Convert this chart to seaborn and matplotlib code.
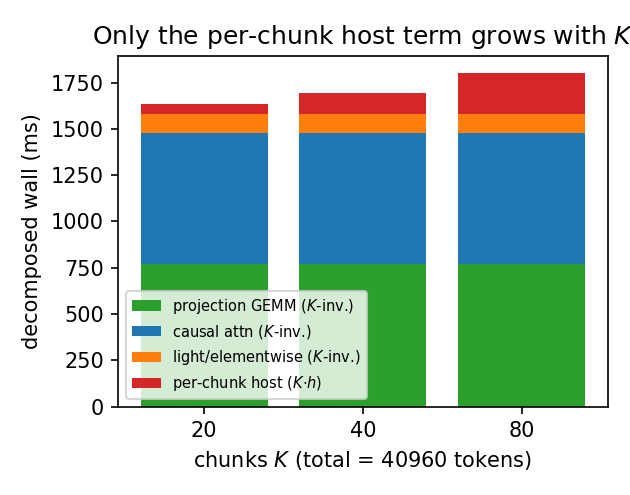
import matplotlib
matplotlib.use("Agg")
import matplotlib.pyplot as plt
import seaborn as sns
import numpy as np
import pandas as pd
from matplotlib.patches import Patch

chunks = ["20", "40", "80"]
proj_gemm = [768, 768, 768]
causal_attn = [712, 712, 712]
light_elem = [99, 99, 99]
chunk_host = [56, 112, 224]

series_names = ["projection GEMM ($K$-inv.)", "causal attn ($K$-inv.)",
                "light/elementwise ($K$-inv.)", "per-chunk host ($K{\\cdot}h$)"]
colors = ["#2ca02c", "#1f77b4", "#ff7f0e", "#d62728"]

layers = [proj_gemm, causal_attn, light_elem, chunk_host]
cum = np.cumsum(np.array(layers, dtype=float), axis=0)

fig, ax = plt.subplots(figsize=(4.2, 3.3), dpi=150)
# draw cumulative totals from the top layer down so each shows as a stacked segment
for i in range(len(layers) - 1, -1, -1):
    df = pd.DataFrame({"K": chunks, "v": cum[i]})
    sns.barplot(data=df, x="K", y="v", color=colors[i], saturation=1,
                width=0.8, ax=ax, order=chunks)

ax.set_xlim(-0.54, 2.54)
handles = [Patch(facecolor=c) for c in colors]
ax.legend(handles, series_names, loc="lower left", fontsize=7)
ax.set_title("Only the per-chunk host term grows with $K$")
ax.set_xlabel("chunks $K$ (total = 40960 tokens)")
ax.set_ylabel("decomposed wall (ms)")
fig.tight_layout()
fig.savefig("out.png", dpi=150)
